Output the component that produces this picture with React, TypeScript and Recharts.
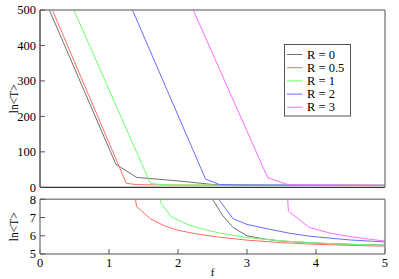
import React from 'react';
import { LineChart, Line, XAxis, YAxis, Legend } from 'recharts';

// f values and ln<T> values per series
const fR0 = [0, 1.1, 1.4, 2.0, 2.5, 2.65, 2.8, 3.0, 3.25, 3.5, 4.0, 4.5, 5.0];
const lnR0 = [561, 65, 28, 18, 8.0, 7.1, 6.45, 6.0, 5.82, 5.71, 5.6, 5.53, 5.49];

const fR05 = [0, 1.25, 1.4, 1.6, 1.8, 2.0, 2.3, 2.6, 3.0, 3.5, 4.0, 4.5, 5.0];
const lnR05 = [582, 11.3, 7.6, 6.93, 6.55, 6.3, 6.08, 5.92, 5.76, 5.62, 5.53, 5.47, 5.43];

const fR1 = [0.3, 1.6, 1.75, 1.9, 2.1, 2.3, 2.6, 3.0, 3.5, 4.0, 4.5, 5.0];
const lnR1 = [584, 11, 7.8, 7.05, 6.68, 6.42, 6.15, 5.9, 5.72, 5.6, 5.53, 5.48];

const fR2 = [1.2, 2.4, 2.6, 2.8, 3.0, 3.3, 3.6, 3.9, 4.2, 4.5, 5.0];
const lnR2 = [563, 23, 7.95, 6.93, 6.62, 6.38, 6.15, 5.98, 5.87, 5.77, 5.66];

const fR3 = [2.1, 3.3, 3.6, 3.9, 4.2, 4.5, 4.8, 5.0];
const lnR3 = [553, 27, 7.36, 6.46, 6.15, 5.95, 5.8, 5.71];

const seriesNames = ['R = 0', 'R = 0.5', 'R = 1', 'R = 2', 'R = 3'];
const seriesColors = ['#707070', '#ff6a6a', '#6aff6a', '#6a6aff', '#ff6aff'];

const xMajor = [0, 1, 2, 3, 4, 5];
const xMinor = [0.5, 1.5, 2.5, 3.5, 4.5];
const yTopMajor = [0, 100, 200, 300, 400, 500];
const yTopMinor = [50, 150, 250, 350, 450];
const yBotMajor = [5, 6, 7, 8];
const yBotMinor = [5.5, 6.5, 7.5];

const toPoints = (fs: number[], vs: number[]) => fs.map((f, i) => ({ f, v: vs[i] }));
const series = [
  toPoints(fR0, lnR0),
  toPoints(fR05, lnR05),
  toPoints(fR1, lnR1),
  toPoints(fR2, lnR2),
  toPoints(fR3, lnR3),
];

const FONT = "'Liberation Serif', 'Times New Roman', Times, serif";
const tickStyle = { fontSize: 12.5, fill: '#000', fontFamily: FONT, style: { fontFamily: FONT } };
const TINY = 0.001;

const yLabel = (props: any) => {
  const vb = props.viewBox;
  const cx = 14.5;
  const cy = vb.y + vb.height / 2;
  return (
    <text
      x={cx}
      y={cy}
      transform={`rotate(-90 ${cx} ${cy})`}
      textAnchor="middle"
      dominantBaseline="central"
      fontSize={11.5}
      style={{ fontFamily: FONT }}
      fill="#000"
    >
      {'ln<T>'}
    </text>
  );
};

const xLabel = (props: any) => {
  const vb = props.viewBox;
  return (
    <text
      x={vb.x + vb.width / 2}
      y={vb.y + 18}
      textAnchor="middle"
      dominantBaseline="central"
      fontSize={11}
      style={{ fontFamily: FONT }}
      fill="#000"
    >
      f
    </text>
  );
};

const LegendBox = (props: any) => {
  const payload = props.payload || [];
  return (
    <svg width={68} height={73} style={{ display: 'block' }}>
      <rect x={0.5} y={0.5} width={66} height={71.5} fill="#fff" stroke="#555" strokeWidth={1} />
      {payload.map((p: any, i: number) => {
        const y = 10.5 + i * 13.2;
        return (
          <g key={i}>
            <line x1={3} x2={18.5} y1={y} y2={y} stroke={p.color} strokeWidth={1} />
            <text x={23} y={y} dominantBaseline="central" fontSize={12.5} style={{ fontFamily: FONT }} fill="#000">
              {p.value}
            </text>
          </g>
        );
      })}
    </svg>
  );
};

const renderAxes = (
  yMajor: number[],
  yMinor: number[],
  yDomain: [number, number],
  showXLabels: boolean,
  frameMain: string,
  frameOther: string,
  mainWidth: number,
  otherWidth: number
) => [
  <XAxis
    key="xb"
    xAxisId="b"
    type="number"
    dataKey="f"
    domain={[0, 5]}
    ticks={xMajor}
    interval={0}
    allowDataOverflow
    height={TINY}
    tickSize={-5}
    tickMargin={showXLabels ? 9 : 0}
    tick={showXLabels ? tickStyle : false}
    axisLine={{ stroke: frameMain, strokeWidth: mainWidth }}
    tickLine={{ stroke: '#555' }}
    label={showXLabels ? { content: xLabel } : undefined}
  />,
  <XAxis key="xbm" xAxisId="bm" type="number" dataKey="f" domain={[0, 5]} ticks={xMinor} interval={0} height={TINY} tickSize={-3} tick={false} axisLine={false} tickLine={{ stroke: '#555' }} />,
  <XAxis key="xt" xAxisId="t" orientation="top" type="number" dataKey="f" domain={[0, 5]} ticks={xMajor} interval={0} height={TINY} tickSize={-5} tick={false} axisLine={{ stroke: frameOther, strokeWidth: otherWidth }} tickLine={{ stroke: '#555' }} />,
  <XAxis key="xtm" xAxisId="tm" orientation="top" type="number" dataKey="f" domain={[0, 5]} ticks={xMinor} interval={0} height={TINY} tickSize={-3} tick={false} axisLine={false} tickLine={{ stroke: '#555' }} />,
  <YAxis
    key="yl"
    yAxisId="l"
    type="number"
    domain={yDomain}
    ticks={yMajor}
    interval={0}
    allowDataOverflow
    width={TINY}
    tickSize={-5}
    tickMargin={9}
    tick={tickStyle}
    axisLine={{ stroke: frameMain, strokeWidth: mainWidth }}
    tickLine={{ stroke: '#555' }}
    label={{ content: yLabel }}
  />,
  <YAxis key="ylm" yAxisId="lm" type="number" domain={yDomain} ticks={yMinor} interval={0} width={TINY} tickSize={-3} tick={false} axisLine={false} tickLine={{ stroke: '#555' }} />,
  <YAxis key="yr" yAxisId="r" orientation="right" type="number" domain={yDomain} ticks={yMajor} interval={0} width={TINY} tickSize={-5} tick={false} axisLine={{ stroke: frameOther, strokeWidth: otherWidth }} tickLine={{ stroke: '#555' }} />,
  <YAxis key="yrm" yAxisId="rm" orientation="right" type="number" domain={yDomain} ticks={yMinor} interval={0} width={TINY} tickSize={-3} tick={false} axisLine={false} tickLine={{ stroke: '#555' }} />,
];

const renderLines = () =>
  series.map((d, i) => (
    <Line
      key={seriesNames[i]}
      name={seriesNames[i]}
      data={d}
      dataKey="v"
      xAxisId="b"
      yAxisId="l"
      type="linear"
      stroke={seriesColors[i]}
      strokeWidth={1}
      dot={false}
      activeDot={false}
      isAnimationActive={false}
    />
  ));

export default function App() {
  return (
    <div style={{ position: 'absolute', left: 0, top: 0, width: 399, height: 279, background: '#fff', fontFamily: FONT }}>
      <div style={{ position: 'absolute', left: 0, top: 0 }}>
        <LineChart width={399} height={195} margin={{ top: 10, right: 14, bottom: 7.7, left: 40 }} style={{ fontFamily: FONT }}>
          {renderAxes(yTopMajor, yTopMinor, [0, 500], false, '#000', '#888', 1, 1.5)}
          {renderLines()}
          <Legend
            layout="vertical"
            align="center"
            verticalAlign="middle"
            content={LegendBox}
            wrapperStyle={{ position: 'absolute', left: 284, top: 44, width: 68, height: 73 }}
          />
        </LineChart>
      </div>
      <div style={{ position: 'absolute', left: 0, top: 190 }}>
        <LineChart width={399} height={89} margin={{ top: 9.3, right: 14, bottom: 25, left: 40 }} style={{ fontFamily: FONT }}>
          {renderAxes(yBotMajor, yBotMinor, [5, 8], true, '#888', '#888', 1.5, 1.5)}
          {renderLines()}
        </LineChart>
      </div>
    </div>
  );
}
